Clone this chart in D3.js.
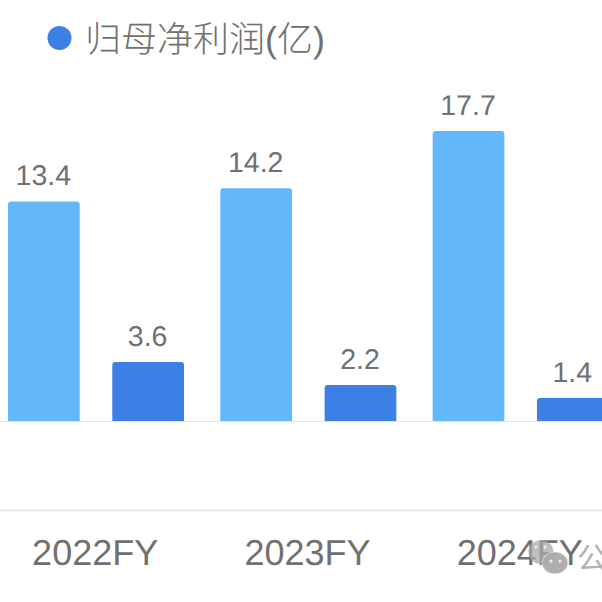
<!DOCTYPE html>
<html><head><meta charset="utf-8">
<script src="https://cdn.jsdelivr.net/npm/d3@7/dist/d3.min.js"></script>
<style>html,body{margin:0;padding:0;background:#fff}svg{display:block}text{font-family:"Liberation Sans","Noto Sans CJK SC",sans-serif;fill:#707070;text-rendering:geometricPrecision}</style>
</head><body><svg id="c" width="602" height="602"></svg>
<script>
const categories = ["2022FY","2023FY","2024FY"];
const seriesKeys = ["其他","归母净利润(亿)"];
const lightValues = [13.4,14.2,17.7];
const darkValues = [3.6,2.2,1.4];
const valueLabels = [["13.4","3.6"],["14.2","2.2"],["17.7","1.4"]];
const colors = ["#62b8fa","#3c80e6"];
const W=602,H=602,baseY=421;
const svg=d3.select("#c");
const x=d3.scaleBand().domain(categories).range([-10.5,626.5]);
const inner=d3.scaleBand().domain([0,1]).range([18.5,194.5]).paddingInner(32.5/104);
const y=d3.scaleLinear().domain([0,17.7]).range([baseY,131]);
const rowsData=[lightValues,darkValues];
svg.append("line").attr("x1",0).attr("x2",W).attr("y1",baseY+.5).attr("y2",baseY+.5).attr("stroke","#e2e2e2").attr("stroke-width",1.2);
svg.append("line").attr("x1",0).attr("x2",W).attr("y1",510.5).attr("y2",510.5).attr("stroke","#e4e4e4").attr("stroke-width",1.5);
rowsData.forEach((vals,s)=>{
  const g=svg.append("g");
  const bw=inner.bandwidth();
  g.selectAll("path").data(vals).join("path")
    .attr("fill",colors[s])
    .attr("d",(d,i)=>{
      const x0=x(categories[i])+inner(s),t=y(d),r=3;
      return `M${x0},${baseY}V${t+r}Q${x0},${t} ${x0+r},${t}H${x0+bw-r}Q${x0+bw},${t} ${x0+bw},${t+r}V${baseY}Z`;
    });
  g.selectAll("text").data(vals).join("text")
    .attr("x",(d,i)=>x(categories[i])+inner(s)+bw/2-.5)
    .attr("y",d=>y(d)-16)
    .attr("text-anchor","middle").attr("font-size",28.5)
    .text((d,i)=>valueLabels[i][s]);
});
svg.selectAll("text.xl").data(categories).join("text").attr("class","xl")
  .attr("x",d=>x(d)+x.bandwidth()/2-.5).attr("y",565)
  .attr("text-anchor","middle").attr("font-size",36).text(d=>d);
svg.append("circle").attr("cx",59.5).attr("cy",38).attr("r",12).attr("fill",colors[1]);
svg.append("text").attr("x",85).attr("y",52).attr("font-size",36).style("font-weight",300).text(seriesKeys[1]);
const wm=svg.append("g");
wm.append("ellipse").attr("cx",541).attr("cy",552).attr("rx",12.5).attr("ry",12).attr("fill","#a9a9a9").attr("opacity",.75);
wm.append("ellipse").attr("cx",555).attr("cy",563).attr("rx",13).attr("ry",11).attr("fill","#aaaaaa").attr("stroke","#fff").attr("stroke-width",.6).attr("opacity",.95);
wm.selectAll("circle").data([[536,547],[545,547],[551,561],[560,561]]).join("circle").attr("cx",d=>d[0]).attr("cy",d=>d[1]).attr("r",1.6).attr("fill","#eee");
wm.append("text").attr("x",577).attr("y",569).attr("font-size",30).style("fill","#b2b2b2").text("公");
</script></body></html>
